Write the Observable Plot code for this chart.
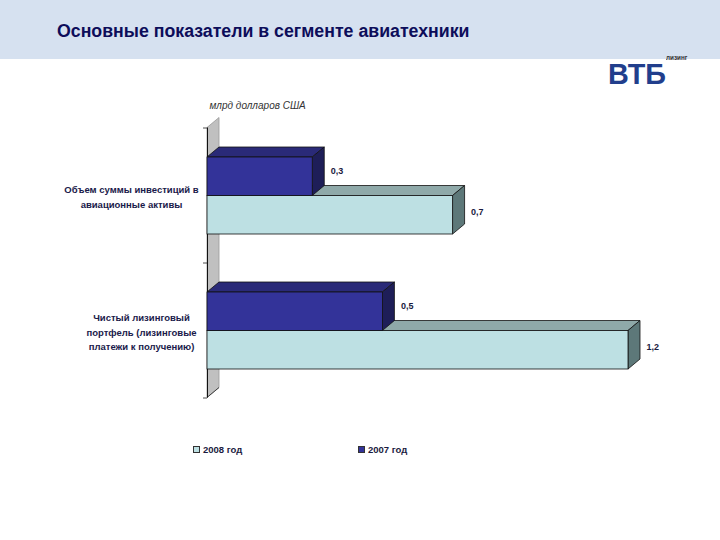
<!DOCTYPE html>
<html>
<head>
<meta charset="utf-8">
<script src="https://cdn.jsdelivr.net/npm/d3@7"></script>
<script src="https://cdn.jsdelivr.net/npm/@observablehq/plot@0.6"></script>
<style>
  body { margin: 0; background: #fff; font-family: "Liberation Sans", Arial, sans-serif; }
  #page { position: relative; width: 720px; height: 540px; overflow: hidden; background: #fff; }
  #header { position: absolute; left: 0; top: 0; width: 720px; height: 59px; background: #d6e1f0; }
  #title { position: absolute; left: 57px; top: 21px; font: bold 18px "Liberation Sans", Arial, sans-serif; color: #0d0d5a; white-space: nowrap; transform-origin: 0 0; transform: scaleX(0.985); }
  #logo { position: absolute; left: 608px; top: 59px; font: bold 30px "Liberation Sans", Arial, sans-serif; color: #213e8c; line-height: 1; transform-origin: 0 0; transform: scaleX(0.96); }
  #logo-sub { position: absolute; left: 666px; top: 54px; font: bold 7px "Liberation Sans", sans-serif; color: #333; transform-origin: 0 0; transform: scaleX(0.9); }
  #chart { position: absolute; left: 0; top: 90px; }
  #legend { position: absolute; left: 0; top: 444px; width: 720px; height: 16px; font: bold 9.5px "Liberation Sans", Arial, sans-serif; color: #1a1a40; }
  .li { position: absolute; top: 0; display: flex; align-items: center; white-space: nowrap; }
  .sw { width: 7px; height: 7px; border: 1px solid #333; box-sizing: border-box; margin-right: 3px; }
</style>
</head>
<body>
<div id="page">
  <div id="header"><div id="title"></div></div>
  <div id="logo"></div>
  <div id="logo-sub"></div>
  <div id="chart"></div>
  <div id="legend"></div>
</div>
<script>
const titleText = "Основные показатели в сегменте авиатехники";
const logoText = "ВТБ";
const logoSubText = "лизинг";
const unitLabel = "млрд долларов США";
const categories = [
  "Объем суммы инвестиций в\nавиационные активы",
  "Чистый лизинговый\nпортфель (лизинговые\nплатежи к получению)"
];
const seriesNames = ["2008 год", "2007 год"];
const values2008 = [0.7, 1.2];
const values2007 = [0.3, 0.5];

document.getElementById("title").textContent = titleText;
document.getElementById("logo").textContent = logoText;
document.getElementById("logo-sub").textContent = logoSubText;

const rows2008 = categories.map((c, i) => ({category: c, series: seriesNames[0], value: values2008[i]}));
const rows2007 = categories.map((c, i) => ({category: c, series: seriesNames[1], value: values2007[i]}));

const svgNS = "http://www.w3.org/2000/svg";
const DX = 12, DY = 10;
const STROKE = "#111";

function poly(points, fill) {
  const p = document.createElementNS(svgNS, "polygon");
  p.setAttribute("points", points.map(q => q.join(",")).join(" "));
  p.setAttribute("fill", fill);
  p.setAttribute("stroke", STROKE);
  p.setAttribute("stroke-width", "0.8");
  p.setAttribute("stroke-linejoin", "round");
  return p;
}

function bar3d(topFill, sideFill) {
  return function(index, scales, values, dimensions, context, next) {
    const g = next(index, scales, values, dimensions, context);
    const rects = Array.from(g.querySelectorAll("rect"));
    for (const r of rects) {
      const x = +r.getAttribute("x"), y = +r.getAttribute("y");
      const w = +r.getAttribute("width"), h = +r.getAttribute("height");
      const parent = r.parentNode;
      parent.insertBefore(poly([[x, y], [x + DX, y - DY], [x + w + DX, y - DY], [x + w, y]], topFill), r);
      parent.insertBefore(poly([[x + w, y], [x + w + DX, y - DY], [x + w + DX, y + h - DY], [x + w, y + h]], sideFill), r);
    }
    return g;
  };
}

function wall(index, scales, values, dimensions) {
  const g = document.createElementNS(svgNS, "g");
  const x0 = scales.x(0);
  const y0 = dimensions.marginTop, y1 = dimensions.height - dimensions.marginBottom;
  const w = poly([[x0, y0], [x0 + DX, y0 - DY], [x0 + DX, y1 - DY], [x0, y1]], "#c0c0c0");
  w.setAttribute("stroke", "#999");
  g.appendChild(w);
  const diag = document.createElementNS(svgNS, "line");
  diag.setAttribute("x1", x0); diag.setAttribute("y1", y1);
  diag.setAttribute("x2", x0 + DX); diag.setAttribute("y2", y1 - DY);
  diag.setAttribute("stroke", "#222"); diag.setAttribute("stroke-width", "0.8");
  g.appendChild(diag);
  const ys = categories.map(c => scales.y(c));
  const step = ys[1] - ys[0];
  const bw = scales.y.bandwidth ? scales.y.bandwidth() : step * 0.57;
  const gap = (step - bw) / 2;
  const bounds = [ys[0] - gap, ...ys.map(v => v + bw + gap)];
  for (const b of bounds) {
    const t = document.createElementNS(svgNS, "line");
    t.setAttribute("x1", x0 - 4); t.setAttribute("x2", x0);
    t.setAttribute("y1", b); t.setAttribute("y2", b);
    t.setAttribute("stroke", "#222"); t.setAttribute("stroke-width", "0.8");
    g.appendChild(t);
  }
  return g;
}

const fmt = v => String(v).replace(".", ",");
const font = {fontFamily: "Liberation Sans, Arial, sans-serif", fontWeight: "bold"};

const chart = Plot.plot({
  width: 720,
  height: 340,
  marginTop: 37.5,
  marginBottom: 32.5,
  marginLeft: 207,
  marginRight: 92,
  x: {domain: [0, 1.2], axis: null},
  y: {domain: categories, axis: null, paddingInner: 0.43, paddingOuter: 0.215},
  color: {domain: seriesNames, range: ["#bde0e3", "#333399"]},
  marks: [
    wall,
    Plot.ruleX([0], {stroke: "#111", strokeWidth: 1}),
    Plot.barX(rows2008, {x: "value", y: "category", fill: "series", stroke: STROKE, strokeWidth: 0.8, insetTop: 38.5, render: bar3d("#8fa9a9", "#5d7879")}),
    Plot.barX(rows2007, {x: "value", y: "category", fill: "series", stroke: STROKE, strokeWidth: 0.8, insetBottom: 38.5, render: bar3d("#2a2a78", "#1e1e58")}),
    Plot.text(rows2008, {x: "value", y: "category", text: d => fmt(d.value), textAnchor: "start", dx: 18, dy: 16, fontSize: 9, fill: "#1a1a40", ...font}),
    Plot.text(rows2007, {x: "value", y: "category", text: d => fmt(d.value), textAnchor: "start", dx: 18, dy: -25, fontSize: 9, fill: "#1a1a40", ...font}),
    Plot.text([categories[0]], {y: d => d, text: d => d, frameAnchor: "left", textAnchor: "middle", dx: -76, lineHeight: 1.5, fontSize: 9.5, fill: "#1a1a4a", ...font}),
    Plot.text([categories[1]], {y: d => d, text: d => d, frameAnchor: "left", textAnchor: "middle", dx: -66, lineHeight: 1.55, fontSize: 9.5, fill: "#1a1a4a", ...font}),
    Plot.text([unitLabel], {text: d => d, frameAnchor: "top-left", textAnchor: "start", lineAnchor: "middle", dx: 2, dy: -22, fontSize: 10, fontStyle: "italic", fill: "#333", fontFamily: "Liberation Sans, Arial, sans-serif"})
  ]
});
document.getElementById("chart").appendChild(chart);

const legend = document.getElementById("legend");
const legendX = [193, 358];
const legendColors = ["#bde0e3", "#333399"];
seriesNames.forEach((s, i) => {
  const item = document.createElement("div");
  item.className = "li";
  item.style.left = legendX[i] + "px";
  const sw = document.createElement("div");
  sw.className = "sw";
  sw.style.background = legendColors[i];
  const label = document.createElement("span");
  label.textContent = s;
  item.appendChild(sw);
  item.appendChild(label);
  legend.appendChild(item);
});
</script>
</body>
</html>
